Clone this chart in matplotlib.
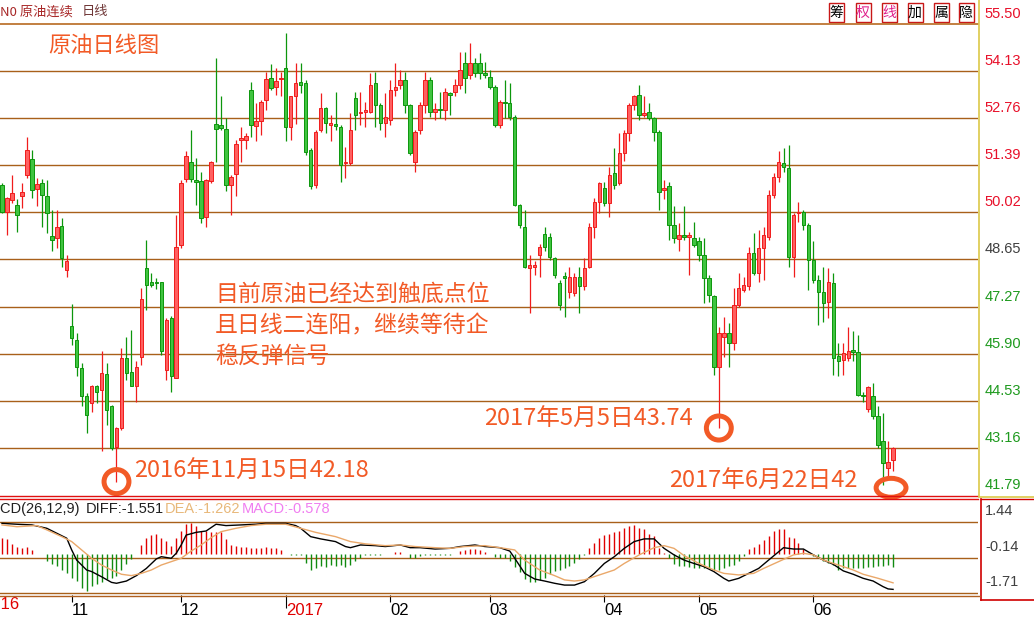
import matplotlib
matplotlib.use('Agg')
import matplotlib.pyplot as plt
from matplotlib.patches import Ellipse, Rectangle
from matplotlib.lines import Line2D
import numpy as np

plt.rcParams['font.family'] = ['Noto Sans CJK SC', 'DejaVu Sans']

# daily candles, Oct 2016 - Jun 2017
opens = [50.82, 50.04, 50.38, 50.23, 50.48, 51.11, 51.56, 50.69, 50.86, 50.50,
         49.33, 49.26, 49.62, 48.34, 46.71, 46.30, 45.48, 44.66, 44.46, 44.95,
         44.85, 45.32, 44.37, 43.20, 43.74, 45.77, 45.38, 44.95, 45.82, 48.39,
         48.00, 48.00, 48.00, 45.43, 46.94, 45.19, 49.07, 50.99, 51.47, 50.96,
         50.93, 49.89, 50.93, 52.59, 52.56, 52.44, 50.80, 51.14, 52.13, 52.13,
         53.58, 52.54, 52.68, 53.29, 53.94, 53.68, 53.89, 54.23, 52.51, 53.39,
         53.82, 53.77, 51.83, 50.81, 52.42, 53.05, 52.56, 52.60, 52.51, 51.45,
         51.45, 53.34, 52.90, 52.95, 52.95, 53.77, 53.14, 52.61, 52.71, 53.58,
         53.72, 53.87, 53.14, 51.49, 52.42, 53.14, 53.87, 52.95, 53.03, 53.00,
         53.48, 53.53, 53.72, 54.36, 54.02, 54.36, 54.36, 54.06, 53.97, 53.68,
         52.56, 53.24, 53.19, 52.80, 50.23, 49.60, 48.39, 48.44, 48.78, 49.40,
         49.31, 48.68, 47.95, 48.15, 47.71, 47.66, 48.15, 47.86, 48.44, 49.60,
         50.33, 50.72, 50.28, 51.16, 50.86, 51.74, 52.32, 53.14, 53.43, 52.85,
         52.95, 52.76, 52.37, 50.67, 50.77, 49.65, 49.23, 49.36, 49.30, 49.26,
         49.17, 48.78, 48.10, 47.57, 45.53, 46.40, 46.50, 46.21, 47.32, 47.76,
         47.86, 48.83, 48.25, 48.97, 49.31, 50.52, 51.06, 51.46, 51.30, 48.73,
         49.99, 50.04, 49.65, 48.63, 48.05, 47.71, 47.42, 47.95, 45.84, 45.72,
         45.77, 46.00, 45.94, 44.70, 44.29, 44.68, 44.09, 43.35, 42.57, 42.81]
highs = [50.86, 50.45, 51.11, 50.40, 50.86, 52.22, 51.84, 51.01, 50.98, 50.96,
         50.09, 50.09, 49.85, 48.78, 47.35, 46.50, 45.63, 44.75, 44.99, 44.99,
         45.97, 45.63, 44.41, 43.78, 46.06, 46.40, 46.60, 45.68, 47.81, 49.22,
         48.25, 48.10, 48.00, 46.94, 46.99, 49.94, 50.96, 51.80, 52.42, 51.59,
         51.20, 50.98, 51.52, 54.52, 53.41, 52.77, 51.10, 52.13, 52.51, 52.32,
         53.80, 53.19, 53.29, 54.11, 54.33, 54.23, 54.11, 55.23, 53.40, 54.36,
         54.36, 53.87, 51.90, 52.42, 53.50, 53.09, 52.85, 53.53, 52.56, 51.93,
         52.90, 53.53, 53.53, 53.24, 54.06, 54.11, 53.19, 53.48, 53.87, 54.36,
         54.16, 54.11, 53.16, 52.40, 53.24, 54.11, 53.97, 53.20, 53.53, 53.63,
         53.53, 53.90, 54.69, 54.69, 54.94, 54.50, 54.65, 54.40, 54.16, 53.72,
         53.29, 53.87, 53.77, 52.85, 50.25, 50.09, 48.78, 48.60, 49.10, 49.60,
         49.41, 48.73, 48.05, 48.29, 48.44, 48.25, 48.44, 48.68, 49.70, 50.43,
         50.91, 50.91, 51.35, 51.88, 52.32, 52.42, 53.19, 53.43, 53.73, 53.39,
         53.19, 52.80, 52.42, 50.95, 50.91, 50.19, 49.70, 50.19, 49.45, 49.75,
         49.31, 49.26, 48.20, 47.61, 46.69, 46.98, 46.79, 47.81, 48.25, 48.15,
         49.02, 49.41, 49.50, 49.60, 50.67, 51.16, 51.79, 51.88, 51.98, 49.99,
         50.33, 50.09, 49.70, 49.17, 48.20, 48.44, 48.39, 48.25, 46.21, 46.21,
         46.69, 46.55, 46.45, 44.80, 44.95, 45.04, 44.37, 44.17, 43.35, 43.20]
lows = [49.99, 49.36, 50.30, 49.46, 50.14, 51.01, 50.43, 50.19, 49.60, 49.41,
        48.88, 48.97, 48.44, 48.15, 46.16, 45.24, 44.37, 43.59, 44.22, 44.46,
        43.06, 43.83, 43.11, 42.18, 43.69, 45.14, 44.95, 44.51, 45.58, 47.18,
        47.85, 47.80, 45.87, 45.14, 44.80, 45.19, 48.97, 50.90, 50.91, 50.23,
        49.70, 49.60, 50.86, 51.49, 52.40, 50.65, 49.94, 50.48, 51.49, 51.86,
        52.22, 52.08, 52.27, 53.00, 53.58, 53.43, 53.39, 52.08, 52.13, 52.60,
        53.50, 51.70, 50.69, 50.72, 52.37, 52.32, 52.08, 52.40, 50.91, 51.01,
        51.40, 52.42, 52.56, 52.51, 52.90, 52.51, 52.40, 52.22, 52.56, 53.40,
        53.60, 52.90, 51.69, 51.20, 52.30, 52.90, 52.80, 52.70, 52.76, 52.71,
        52.85, 53.40, 53.60, 53.48, 53.90, 53.95, 53.90, 53.92, 53.60, 52.51,
        52.46, 52.76, 52.71, 50.20, 49.55, 48.40, 47.08, 48.20, 48.15, 48.90,
        48.63, 48.10, 47.18, 46.98, 47.52, 47.57, 47.08, 47.76, 48.39, 49.26,
        49.99, 50.19, 49.89, 50.70, 50.81, 51.50, 52.10, 53.00, 52.71, 52.80,
        52.70, 52.08, 50.09, 50.40, 49.22, 49.12, 48.88, 49.20, 48.20, 49.00,
        48.60, 47.37, 47.40, 45.29, 43.74, 45.82, 45.53, 46.02, 47.27, 47.70,
        47.76, 48.20, 48.00, 48.05, 49.20, 50.43, 50.91, 51.20, 48.44, 48.15,
        49.75, 49.51, 47.76, 47.95, 46.74, 46.84, 46.94, 45.29, 45.24, 45.29,
        45.70, 45.70, 44.66, 44.50, 44.22, 44.00, 43.15, 42.09, 42.33, 42.50]
closes = [50.04, 50.43, 50.57, 49.94, 50.62, 51.84, 50.67, 50.84, 50.52, 49.99,
          49.22, 49.60, 48.68, 48.59, 46.35, 45.53, 44.68, 44.12, 44.97, 44.80,
          45.34, 44.27, 43.15, 43.74, 45.77, 45.34, 44.95, 45.53, 47.49, 47.91,
          47.91, 47.95, 45.97, 46.89, 45.24, 49.02, 50.86, 51.66, 50.99, 50.91,
          49.85, 50.96, 51.49, 52.44, 52.46, 50.80, 51.06, 52.01, 52.17, 52.25,
          52.56, 52.68, 53.24, 53.90, 53.65, 53.84, 53.92, 52.51, 53.39, 53.77,
          53.72, 51.78, 50.77, 52.37, 53.05, 52.61, 52.63, 52.54, 51.40, 51.49,
          52.42, 52.85, 52.95, 53.00, 53.72, 53.14, 52.61, 52.80, 53.58, 53.68,
          53.87, 53.14, 51.74, 52.37, 53.14, 53.87, 52.95, 53.03, 53.00, 53.53,
          53.43, 53.72, 54.16, 53.92, 54.36, 54.06, 54.06, 54.02, 53.68, 52.56,
          53.24, 53.19, 52.80, 50.23, 49.65, 48.44, 48.49, 48.49, 49.02, 49.02,
          48.73, 48.20, 47.32, 48.12, 48.15, 48.15, 47.86, 48.39, 49.60, 50.33,
          50.86, 50.28, 51.11, 50.81, 51.74, 52.32, 53.14, 53.39, 52.85, 52.92,
          52.76, 52.37, 50.62, 50.72, 49.65, 49.26, 49.36, 49.31, 49.35, 49.07,
          48.78, 48.10, 47.61, 45.53, 46.50, 46.50, 46.21, 47.32, 47.81, 47.91,
          48.83, 48.25, 48.97, 49.36, 50.52, 51.06, 51.49, 51.33, 48.73, 49.94,
          50.04, 49.65, 48.63, 48.05, 47.71, 47.37, 48.00, 45.77, 45.70, 45.92,
          45.99, 45.94, 44.70, 44.66, 44.93, 44.09, 43.25, 42.72, 42.76, 43.15]

price_ticks = [55.50, 54.13, 52.76, 51.39, 50.02, 48.65, 47.27, 45.90, 44.53, 43.16, 41.79]
macd_ticks = [1.44, -0.14, -1.71]

# MACD(26,12,9) histogram, one bar per candle
macd_hist = [0.75,
             0.67, 0.47, 0.33, 0.30, 0.33, 0.18, 0.03, 0.00, -0.27, -0.44,
             -0.52, -0.67, -0.81, -1.04, -1.18, -1.48, -1.63, -1.41, -1.33, -1.21,
             -1.11, -1.04, -0.96, -0.67, -0.44, -0.22, 0.00, 0.44, 0.74, 0.86,
             0.92, 0.74, 0.59, 0.37, 0.74, 1.06, 1.36, 1.40, 1.26, 1.06,
             1.04, 1.01, 1.01, 1.01, 0.67, 0.41, 0.37, 0.34, 0.33, 0.30,
             0.27, 0.30, 0.33, 0.30, 0.27, 0.18, 0.02, -0.02, -0.03, -0.02,
             -0.37, -0.71, -0.62, -0.52, -0.56, -0.47, -0.52, -0.47, -0.56, -0.47,
             -0.30, -0.15, -0.03, -0.02, -0.02, -0.02, 0.01, 0.03, 0.12, 0.12,
             0.00, -0.15, -0.15, -0.07, -0.02, -0.02, -0.02, -0.02, -0.02, -0.02,
             0.03, 0.15, 0.18, 0.22, 0.22, 0.18, 0.12, 0.03, -0.10, -0.15,
             -0.15, -0.30, -0.56, -0.77, -1.11, -1.21, -1.21, -1.15, -1.04, -0.86,
             -0.74, -0.67, -0.59, -0.52, -0.37, -0.22, -0.03, 0.30, 0.52, 0.74,
             0.86, 0.92, 1.01, 1.04, 1.18, 1.26, 1.30, 1.18, 1.11, 0.92,
             0.81, 0.30, 0.07, -0.18, -0.44, -0.52, -0.52, -0.56, -0.59, -0.59,
             -0.62, -0.62, -0.67, -0.71, -0.62, -0.52, -0.47, -0.30, -0.07, 0.22,
             0.33, 0.47, 0.62, 0.81, 1.04, 1.15, 1.15, 0.77, 0.71, 0.52,
             0.22, 0.03, -0.07, -0.18, -0.30, -0.37, -0.47, -0.67, -0.62, -0.59,
             -0.59, -0.62, -0.59, -0.56, -0.56, -0.52, -0.52, -0.47, -0.578]

diff_idx = [0, 3, 6, 9, 11, 13, 14, 15, 17, 18, 20, 22, 23, 25, 27, 29, 31, 32, 34, 35,
            36, 37, 39, 41, 43, 45, 48, 51, 53, 57, 59, 60, 62, 64, 67, 69, 70, 72, 75, 77,
            80, 82, 84, 87, 90, 92, 95, 97, 100, 102, 103, 105, 107, 109, 111, 113, 115, 117, 119, 121,
            123, 125, 127, 129, 131, 133, 135, 137, 139, 141, 143, 145, 146, 148, 150, 152, 154, 157, 159, 161,
            163, 165, 167, 169, 171, 173, 175, 177, 178, 179]
diff_val = [1.38, 1.34, 1.31, 1.16, 0.94, 0.72, 0.20, -0.25, -0.69, -0.76, -0.99, -1.24, -1.28, -1.18, -0.94, -0.62, -0.20, -0.10, -0.17, 0.05,
            0.42, 0.86, 0.98, 1.04, 1.34, 1.28, 1.31, 1.34, 1.38, 1.38, 1.28, 1.16, 0.79, 0.69, 0.57, 0.35, 0.30, 0.42, 0.39, 0.35,
            0.42, 0.30, 0.30, 0.24, 0.27, 0.35, 0.42, 0.35, 0.30, 0.15, -0.17, -0.84, -1.09, -1.18, -1.28, -1.36, -1.36, -1.21, -0.84, -0.40,
            -0.10, 0.27, 0.57, 0.69, 0.69, 0.27, -0.02, -0.25, -0.40, -0.54, -0.76, -1.06, -1.18, -1.06, -0.84, -0.62, -0.25, 0.30, 0.24, 0.24,
            -0.02, -0.25, -0.44, -0.73, -0.88, -1.06, -1.18, -1.43, -1.53, -1.55]
dea_idx = [0, 3, 7, 9, 12, 14, 16, 18, 20, 22, 24, 26, 28, 30, 32, 34, 36, 38, 40, 42,
           44, 47, 50, 53, 57, 60, 63, 67, 70, 73, 77, 80, 83, 87, 90, 93, 97, 100, 103, 105,
           108, 111, 113, 115, 117, 120, 123, 125, 128, 131, 133, 135, 137, 140, 143, 145, 148, 151, 153, 156,
           159, 161, 163, 165, 168, 171, 173, 176, 179]
dea_val = [1.31, 1.23, 1.28, 1.09, 0.79, 0.57, 0.20, -0.17, -0.47, -0.69, -0.88, -0.94, -0.84, -0.69, -0.47, -0.32, -0.17, 0.15, 0.42, 0.74,
           1.01, 1.16, 1.28, 1.34, 1.34, 1.16, 0.98, 0.79, 0.57, 0.47, 0.39, 0.42, 0.35, 0.30, 0.27, 0.35, 0.39, 0.30, 0.20, -0.25,
           -0.69, -0.94, -1.13, -1.18, -1.13, -0.91, -0.69, -0.40, -0.02, 0.30, 0.39, 0.27, -0.05, -0.40, -0.69, -0.84, -0.91, -0.84, -0.62, -0.32,
           -0.02, 0.05, -0.02, -0.25, -0.47, -0.69, -0.88, -1.06, -1.26]

month_idx = [14, 36, 57, 78, 98, 121, 140, 163]
month_lbl = ['11', '12', '2017', '02', '03', '04', '05', '06']

W, H = 1034, 624
fig = plt.figure(figsize=(W / 100, H / 100), dpi=100)
fig.patch.set_facecolor('white')

def fx(px):
    return px / W

def fy(py):
    return 1 - py / H

DX = 4.978  # pixels per candle
xl = (-2 / DX, 976 / DX)

BROWN = '#a8601a'
RED_UP = '#f01c1c'
GREEN_DN = '#0c960c'
ORANGE = '#f25a26'
TICK_FONT = ['Liberation Sans Narrow', 'Liberation Sans', 'DejaVu Sans']

ax = fig.add_axes([0, fy(495), fx(978), (495 - 24) / H])
mx = fig.add_axes([0, fy(595), fx(978), (595 - 499) / H])

# ---- candles
x = np.arange(len(closes))
o = np.array(opens)
c = np.array(closes)
hi = np.array(highs)
lo = np.array(lows)
up = c >= o
edge = np.where(up, RED_UP, GREEN_DN)
face = np.where(up, '#ff6060', '#40c440')
ax.vlines(x, lo, hi, colors=edge, lw=0.9, zorder=3)
body = np.maximum(np.abs(c - o), 0.04)
ax.bar(x, body, bottom=np.minimum(o, c), width=0.7, color=face,
       edgecolor=edge, linewidth=0.7, zorder=4)

for v in price_ticks[1:-1]:
    ax.axhline(v, color=BROWN, lw=1.0, zorder=1)
ax.set_xlim(*xl)
ax.set_ylim(price_ticks[-1], price_ticks[0])
ax.set_xticks([])
ax.set_yticks([])
for s in ['left', 'top', 'right', 'bottom']:
    ax.spines[s].set_visible(False)

tick_cols = ['#e8102a'] * 5 + ['#404040'] + ['#1e9a1e'] * 5
for v, col in zip(price_ticks, tick_cols):
    ax.annotate(f'{v:.2f}', xy=(1, v), xycoords=('axes fraction', 'data'),
                xytext=(5, 7.3), textcoords='offset points', va='center', ha='left',
                fontsize=10.5, color=col, family=['Liberation Sans', 'DejaVu Sans'],
                annotation_clip=False)

# ---- MACD panel
mh = np.array(macd_hist)
mx.vlines(x, 0, mh, colors=np.where(mh >= 0, '#e00000', '#108a10'), lw=1.0, zorder=2)
mx.plot(diff_idx, diff_val, color='black', lw=1.0, zorder=3)
mx.plot(dea_idx, dea_val, color='#eaa86a', lw=1.0, zorder=3)
for v in macd_ticks:
    mx.axhline(v, color=BROWN, lw=1.0, zorder=1)
    mx.annotate(f'{v:.2f}', xy=(1, v), xycoords=('axes fraction', 'data'),
                xytext=(5, 7.6), textcoords='offset points', va='center', ha='left',
                fontsize=10.5, color='#404040', family=['Liberation Sans', 'DejaVu Sans'],
                annotation_clip=False)
mx.set_xlim(*xl)
mx.set_ylim(-1.80, 2.46)
mx.set_yticks([])
for s in ['left', 'top', 'right', 'bottom']:
    mx.spines[s].set_visible(False)
mx.set_xticks(month_idx)
mx.set_xticklabels(month_lbl, fontsize=12, family=TICK_FONT)
mx.tick_params(axis='x', length=5, width=0.8, color='black', pad=1, direction='out')
for lbl in mx.get_xticklabels():
    lbl.set_ha('left')
mx.get_xticklabels()[2].set_color('#e00000')
t2017 = mx.xaxis.get_major_ticks()[2]
t2017.tick1line.set_color('#e00000')
t2017.tick1line.set_markersize(9)
# year label of October 2016, mostly off the left edge
mx.text(-3.9, -0.02, '2016', transform=mx.get_xaxis_transform(), va='top', ha='left',
        fontsize=12, color='#e00000', family=TICK_FONT, clip_on=False)

# ---- frame lines
fig.add_artist(Line2D([0, fx(978)], [fy(23.5), fy(23.5)], color='#b86a20', lw=1.2))
fig.add_artist(Line2D([0, fx(978)], [fy(495.5), fy(495.5)], color='#e01010', lw=1.0))
fig.add_artist(Line2D([0, fx(978)], [fy(498.5), fy(498.5)], color='#e01010', lw=1.0))
fig.add_artist(Line2D([fx(978.5), fx(978.5)], [fy(0), fy(496)], color='#dcc848', lw=1.2))
fig.add_artist(Line2D([fx(978.5), fx(1034)], [fy(496.5), fy(496.5)], color='#dcc848', lw=1.2))
fig.add_artist(Line2D([fx(980.5), fx(980.5)], [fy(499), fy(600)], color='#d00000', lw=1.2))
fig.add_artist(Line2D([0, fx(980)], [fy(595.5), fy(595.5)], color='#b06020', lw=1.0))
fig.add_artist(Line2D([fx(980.5), fx(1034)], [fy(599.5), fy(599.5)], color='#d00000', lw=1.2))
fig.add_artist(Line2D([fx(980.5), fx(1034)], [fy(498.5), fy(498.5)], color='#d00000', lw=1.0))

# ---- header strip
fig.text(fx(0), fy(12), 'N0 原油连续', fontsize=9.5, color='#a82828', va='center', ha='left')
fig.text(fx(82), fy(12), '日线', fontsize=9.5, color='#703838', va='center', ha='left')
btn_x = [836, 863, 889, 915, 941, 966]
btn_t = ['筹', '权', '线', '加', '属', '隐']
btn_c = ['black', '#e0208c', '#e0208c', 'black', 'black', 'black']
for bx, bt, bc in zip(btn_x, btn_t, btn_c):
    fig.add_artist(Rectangle((fx(bx - 7.5), fy(22)), 15 / W, 19 / H, transform=fig.transFigure,
                             fill=False, edgecolor='#c81818', lw=1.0))
    fig.text(fx(bx), fy(12.5), bt, fontsize=10, color=bc, ha='center', va='center')

# ---- MACD header (its first letters run off the left edge, as in the source)
hdr_font = ['Liberation Sans', 'Noto Sans CJK SC']
fig.text(fx(-21), fy(509), 'MACD(26,12,9)', fontsize=10.5, color='#202020', va='center', family=hdr_font)
fig.text(fx(86), fy(509), 'DIFF:-1.551', fontsize=10.5, color='#202020', va='center', family=hdr_font)
fig.text(fx(165), fy(509), 'DEA:-1.262', fontsize=10.5, color='#e8b87a', va='center', family=hdr_font)
fig.text(fx(242), fy(509), 'MACD:-0.578', fontsize=10.5, color='#f07ef0', va='center', family=hdr_font)

# ---- annotations
fig.text(fx(48), fy(46), '原油日线图', fontsize=16, color=ORANGE, va='center', ha='left')
note = ['目前原油已经达到触底点位', '且日线二连阳，继续等待企', '稳反弹信号']
for k, line in enumerate(note):
    fig.text(fx(215), fy(294 + 31.5 * k), line, fontsize=16.5, color=ORANGE, va='center', ha='left')

fig.text(fx(134), fy(471), '2016年11月15日42.18', fontsize=17, color=ORANGE, va='center', ha='left')
fig.text(fx(484), fy(419), '2017年5月5日43.74', fontsize=17, color=ORANGE, va='center', ha='left')
fig.text(fx(669), fy(481), '2017年6月22日42', fontsize=17, color=ORANGE, va='center', ha='left')

# hand-drawn rings at the lows
rings = [(23, 42.18, 5.0, 0.70), (144, 43.74, 5.0, 0.70), (178.6, 42.0, 6.0, 0.55)]
for ri, rv, rw, rh in rings:
    ax.add_patch(Ellipse((ri, rv), rw, rh, fill=False, edgecolor=ORANGE, lw=3.6,
                         clip_on=False, zorder=6))

fig.savefig('out.png', dpi=100, facecolor='white')
